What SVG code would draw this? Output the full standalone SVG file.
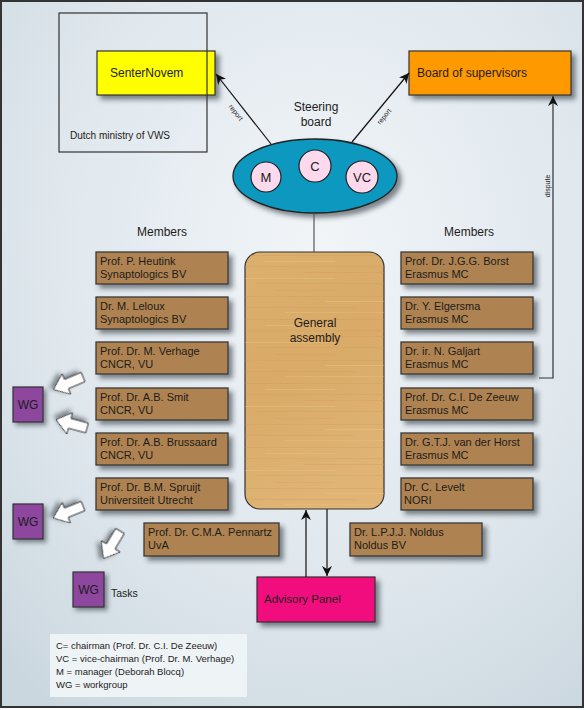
<svg xmlns="http://www.w3.org/2000/svg" width="586" height="710" viewBox="0 0 586 710">
<defs>
  <radialGradient id="bg" cx="55%" cy="35%" r="80%">
    <stop offset="0" stop-color="#f1f5f8"/>
    <stop offset="0.6" stop-color="#dfe7ed"/>
    <stop offset="1" stop-color="#cbd7df"/>
  </radialGradient>
  <filter id="sh" x="-20%" y="-20%" width="150%" height="170%">
    <feDropShadow dx="4" dy="4" stdDeviation="2.5" flood-color="#1c2833" flood-opacity="0.55"/>
  </filter>
  <filter id="shs" x="-40%" y="-40%" width="200%" height="200%">
    <feDropShadow dx="3" dy="3" stdDeviation="2" flood-color="#1c2833" flood-opacity="0.5"/>
  </filter>
  <marker id="ah" viewBox="0 0 10 10" refX="10" refY="5" markerWidth="10" markerHeight="10" markerUnits="userSpaceOnUse" orient="auto">
    <path d="M0,0 L10,5 L0,10 L3,5 Z" fill="#111"/>
  </marker>
  <linearGradient id="woodbase" x1="0" y1="0" x2="0.3" y2="1">
    <stop offset="0" stop-color="#dcb06e"/>
    <stop offset="0.5" stop-color="#d9aa68"/>
    <stop offset="1" stop-color="#dfb474"/>
  </linearGradient>
  <pattern id="wood" patternUnits="userSpaceOnUse" x="245" y="252" width="139" height="64">
    <rect x="0" y="3" width="139" height="1" fill="#c99653" opacity="0.3"/>
    <rect x="20" y="9" width="70" height="1" fill="#eac68a" opacity="0.4"/>
    <rect x="0" y="14" width="139" height="1.2" fill="#c99653" opacity="0.25"/>
    <rect x="60" y="20" width="79" height="1" fill="#d9915c" opacity="0.3"/>
    <rect x="0" y="26" width="90" height="1" fill="#eac68a" opacity="0.4"/>
    <rect x="10" y="31" width="129" height="1" fill="#c99653" opacity="0.25"/>
    <rect x="30" y="38" width="60" height="1" fill="#dc9668" opacity="0.3"/>
    <rect x="0" y="44" width="139" height="1" fill="#c99653" opacity="0.25"/>
    <rect x="80" y="49" width="59" height="1" fill="#eac68a" opacity="0.4"/>
    <rect x="0" y="55" width="110" height="1.2" fill="#c99653" opacity="0.25"/>
    <rect x="40" y="60" width="99" height="1" fill="#eac68a" opacity="0.35"/>
  </pattern>
  <path id="barrow" d="M0,-5 L18,-5 L18,-11 L32,0 L18,11 L18,5 L0,5 Z"/>
</defs>
<style>
  text { font-family: "Liberation Sans", Arial, sans-serif; fill: #1e1c1a; }
  .mem rect { fill: #ae8351; stroke: #3a3a3a; stroke-width: 1.3; filter: url(#sh); }
  .mem text { font-size: 11px; }
  .lbl { font-size: 12px; text-anchor: middle; }
  .wg rect { fill: #8d469f; stroke: #333; stroke-width: 1.2; filter: url(#shs); }
  .wg text { font-size: 12px; text-anchor: middle; }
  .conn line, .conn polyline { stroke: #111; stroke-width: 1.2; fill: none; }
  .small { font-size: 7px; text-anchor: middle; }
  .barr use { fill: #fff; stroke: #333; stroke-width: 1; filter: url(#shs); }
  .circ circle { fill: #fcd9ed; stroke: #222; stroke-width: 1.2; }
  .circ text { font-size: 13px; text-anchor: middle; }
</style>

<rect x="1" y="1" width="582" height="706" fill="url(#bg)" stroke="#333" stroke-width="2"/>

<g id="senternovem">
  <rect x="97" y="51" width="118" height="44" fill="#ffff00" stroke="#333" stroke-width="1.2" filter="url(#sh)"/>
  <text x="110" y="77" font-size="12">SenterNovem</text>
</g>
<g id="ministry">
  <rect x="59" y="13" width="148" height="139" fill="none" stroke="#333" stroke-width="1.2"/>
  <text x="70" y="139" font-size="10">Dutch ministry of VWS</text>
</g>
<g id="board">
  <rect x="409" y="51" width="162" height="44" fill="#ff9900" stroke="#333" stroke-width="1.2" filter="url(#sh)"/>
  <text x="417" y="77" font-size="12">Board of supervisors</text>
</g>

<g id="steering">
  <text class="lbl" x="316" y="111">Steering</text>
  <text class="lbl" x="316" y="126">board</text>
  <ellipse cx="315" cy="176" rx="82" ry="37" fill="#0b98c0" stroke="#222" stroke-width="1.3" filter="url(#sh)"/>
  <g class="circ">
    <circle cx="266" cy="177" r="15"/>
    <text x="266" y="182">M</text>
    <circle cx="315" cy="166" r="16"/>
    <text x="315" y="171">C</text>
    <circle cx="362" cy="177" r="16"/>
    <text x="362" y="182">VC</text>
  </g>
</g>

<g id="general-assembly">
  <rect x="245" y="252" width="139" height="257" rx="15" fill="url(#woodbase)" stroke="#333" stroke-width="1.2"/>
  <rect x="245" y="252" width="139" height="257" rx="15" fill="url(#wood)"/>
  <text class="lbl" x="315" y="327" font-size="11.5">General</text>
  <text class="lbl" x="315" y="342" font-size="11.5">assembly</text>
</g>

<text class="lbl" x="162" y="236">Members</text>
<text class="lbl" x="469" y="236">Members</text>

<g class="mem">
  <g id="heutink" transform="translate(96,252)"><rect width="132" height="32"/><text x="4" y="12.5">Prof. P. Heutink</text><text x="4" y="25.5">Synaptologics BV</text></g>
  <g id="leloux" transform="translate(96,297)"><rect width="132" height="32"/><text x="4" y="12.5">Dr. M. Leloux</text><text x="4" y="25.5">Synaptologics BV</text></g>
  <g id="verhage" transform="translate(96,342)"><rect width="132" height="32"/><text x="4" y="12.5">Prof. Dr. M. Verhage</text><text x="4" y="25.5">CNCR, VU</text></g>
  <g id="smit" transform="translate(96,388)"><rect width="132" height="32"/><text x="4" y="12.5">Prof. Dr. A.B. Smit</text><text x="4" y="25.5">CNCR, VU</text></g>
  <g id="brussaard" transform="translate(96,433)"><rect width="132" height="32"/><text x="4" y="12.5">Prof. Dr. A.B. Brussaard</text><text x="4" y="25.5">CNCR, VU</text></g>
  <g id="spruijt" transform="translate(96,478)"><rect width="132" height="32"/><text x="4" y="12.5">Prof. Dr. B.M. Spruijt</text><text x="4" y="25.5">Universiteit Utrecht</text></g>
  <g id="pennartz" transform="translate(144,523)"><rect width="135" height="33"/><text x="4" y="13">Prof. Dr. C.M.A. Pennartz</text><text x="4" y="26">UvA</text></g>

  <g id="borst" transform="translate(401,252)"><rect width="132" height="32"/><text x="4" y="12.5">Prof. Dr. J.G.G. Borst</text><text x="4" y="25.5">Erasmus MC</text></g>
  <g id="elgersma" transform="translate(401,297)"><rect width="132" height="32"/><text x="4" y="12.5">Dr. Y. Elgersma</text><text x="4" y="25.5">Erasmus MC</text></g>
  <g id="galjart" transform="translate(401,342)"><rect width="132" height="32"/><text x="4" y="12.5">Dr. ir. N. Galjart</text><text x="4" y="25.5">Erasmus MC</text></g>
  <g id="dezeeuw" transform="translate(401,388)"><rect width="132" height="32"/><text x="4" y="12.5">Prof. Dr. C.I. De Zeeuw</text><text x="4" y="25.5">Erasmus MC</text></g>
  <g id="vanderhorst" transform="translate(401,433)"><rect width="132" height="32"/><text x="4" y="12.5">Dr. G.T.J. van der Horst</text><text x="4" y="25.5">Erasmus MC</text></g>
  <g id="levelt" transform="translate(401,478)"><rect width="132" height="32"/><text x="3" y="12.5">Dr. C. Levelt</text><text x="3" y="25.5">NORI</text></g>
  <g id="noldus" transform="translate(350,523)"><rect width="132" height="33"/><text x="4" y="13">Dr. L.P.J.J. Noldus</text><text x="4" y="26">Noldus BV</text></g>
</g>

<g id="advisory-panel">
  <rect x="257" y="577" width="118" height="45" fill="#f2077f" stroke="#333" stroke-width="1.2" filter="url(#sh)"/>
  <text x="264" y="603" font-size="11.5">Advisory Panel</text>
</g>

<g class="wg">
  <g id="wg1"><rect x="13" y="387" width="30" height="35"/><text x="28" y="409">WG</text></g>
  <g id="wg2"><rect x="13" y="504" width="30" height="35"/><text x="28" y="526">WG</text></g>
  <g id="wg3"><rect x="73" y="572" width="31" height="35"/><text x="88.5" y="594">WG</text></g>
</g>
<text x="111" y="597" font-size="10.5">Tasks</text>

<g id="connectors" class="conn">
  <line x1="271" y1="144" x2="216" y2="74" marker-end="url(#ah)"/>
  <line x1="352" y1="142" x2="409" y2="73" marker-end="url(#ah)"/>
  <line x1="314" y1="213" x2="314" y2="252" style="stroke:#555"/>
  <polyline points="539,378 553,378 553,96" marker-end="url(#ah)" style="stroke:#333"/>
  <line x1="306" y1="577" x2="306" y2="510" marker-end="url(#ah)"/>
  <line x1="327" y1="509" x2="327" y2="576" marker-end="url(#ah)"/>
  <text class="small" transform="translate(234,114) rotate(52)">report</text>
  <text class="small" transform="translate(386,118) rotate(-51)">report</text>
  <text class="small" font-size="7.5" transform="translate(550,186) rotate(-90)">dispute</text>
  <g class="barr">
    <use href="#barrow" transform="translate(83,377) rotate(157)"/>
    <use href="#barrow" transform="translate(87,428) rotate(195)"/>
    <use href="#barrow" transform="translate(83,506) rotate(158)"/>
    <use href="#barrow" transform="translate(120,531) rotate(121)"/>
  </g>
</g>

<g id="legend">
  <rect x="50" y="634" width="197" height="63" fill="#eef3f6"/>
  <text x="56" y="649" font-size="9.5">C= chairman (Prof. Dr. C.I. De Zeeuw)</text>
  <text x="56" y="662" font-size="9.5">VC = vice-chairman (Prof. Dr. M. Verhage)</text>
  <text x="56" y="675" font-size="9.5">M = manager (Deborah Blocq)</text>
  <text x="56" y="688" font-size="9.5">WG = workgroup</text>
</g>
</svg>
